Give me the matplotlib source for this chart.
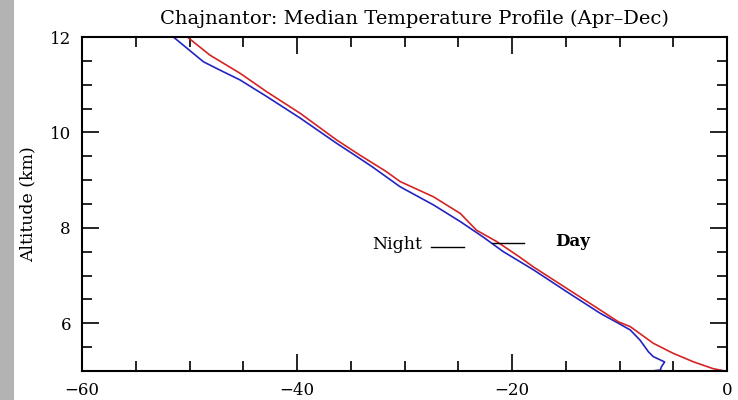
import matplotlib
matplotlib.use('Agg')
import matplotlib.pyplot as plt
from matplotlib.ticker import MultipleLocator
from matplotlib.patches import Rectangle

plt.rcParams['font.family'] = ['DejaVu Serif']

# night (blue) median profile: temperature (C), altitude (km)
night_temp = [-51.5, -48.7, -47.2, -45.3, -42.8, -39.7, -36.3, -34.4, -33.0, -30.4,
              -27.3, -24.8, -22.7, -20.8, -18.0, -14.9, -11.8, -10.1, -9.0, -8.1,
              -7.3, -6.85, -5.8, -6.1, -6.2, -7.0, -9.0]
night_alt = [12.0, 11.48, 11.31, 11.10, 10.75, 10.30, 9.77, 9.49, 9.28, 8.86,
             8.48, 8.13, 7.81, 7.50, 7.12, 6.66, 6.21, 6.0, 5.86, 5.65,
             5.40, 5.30, 5.19, 5.09, 5.02, 5.0, 5.0]

# day (red) median profile
day_temp = [-50.2, -48.1, -45.3, -42.8, -39.7, -36.3, -34.4, -31.7, -30.4, -27.3,
            -24.8, -23.3, -21.4, -19.3, -18.0, -14.9, -11.8, -10.1, -9.0, -6.85,
            -5.0, -3.1, -1.3, -0.2]
day_alt = [12.0, 11.62, 11.24, 10.85, 10.40, 9.84, 9.56, 9.18, 8.97, 8.65,
           8.30, 7.95, 7.71, 7.39, 7.18, 6.73, 6.28, 6.03, 5.93, 5.58,
           5.37, 5.19, 5.05, 5.0]

fig = plt.figure(figsize=(7.38, 4.0), dpi=100)
fig.patches.append(Rectangle((0, 0), 14 / 738, 1, transform=fig.transFigure,
                             facecolor='#b3b3b3', edgecolor='none'))
ax = fig.add_axes([82 / 738, 1 - 371 / 400, 645 / 738, 334 / 400])

ax.plot(night_temp, night_alt, color='#2323c0', lw=1.2)
ax.plot(day_temp, day_alt, color='#d42424', lw=1.2)

# labels with short black lines
ax.text(-33.0, 7.66, 'Night', fontsize=12.5, va='center', ha='left')
ax.plot([-27.5, -24.5], [7.60, 7.60], color='black', lw=1)
ax.plot([-21.9, -18.9], [7.68, 7.68], color='black', lw=1)
ax.text(-16.0, 7.72, 'Day', fontsize=12, va='center', ha='left', fontweight='bold')

ax.set_xlim(-60, 0)
ax.set_ylim(5, 12)
ax.xaxis.set_major_locator(MultipleLocator(20))
ax.xaxis.set_minor_locator(MultipleLocator(5))
ax.yaxis.set_major_locator(MultipleLocator(2))
ax.yaxis.set_minor_locator(MultipleLocator(0.5))
ax.tick_params(which='both', direction='in', top=True, right=True, width=1.2,
               labelsize=12, color='black')
ax.tick_params(which='major', length=12, pad=8)
ax.tick_params(which='minor', length=7)
for sp in ax.spines.values():
    sp.set_linewidth(1.5)

ax.set_title('Chajnantor: Median Temperature Profile (Apr\u2013Dec)', fontsize=14,
             pad=9, x=0.515)
ax.set_ylabel('Altitude (km)', fontsize=12.5)
ax.yaxis.set_label_coords(-0.07, 0.5)

fig.savefig('out.png', dpi=100)
